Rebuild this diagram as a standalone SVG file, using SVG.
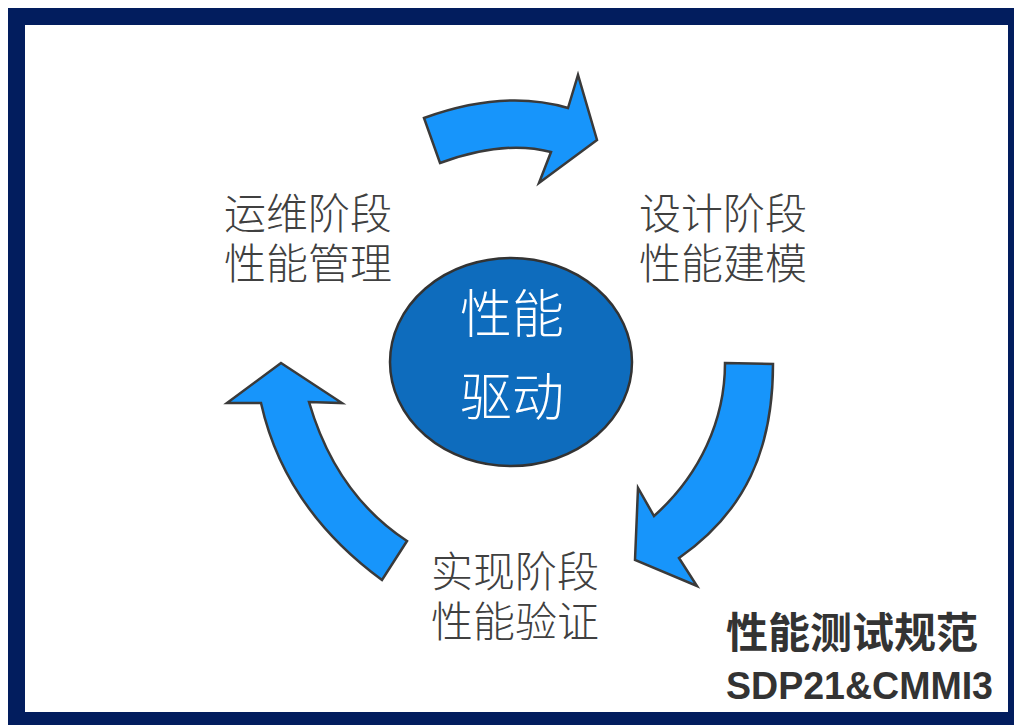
<svg xmlns="http://www.w3.org/2000/svg" width="1014" height="725" viewBox="0 0 1014 725">
<style>
.arrow{fill:#1795fb;stroke:#3a3a3a;stroke-width:2.5;stroke-linejoin:miter}
.lbl{font-family:"Noto Sans CJK SC","Noto Sans",sans-serif;font-size:42px;font-weight:300;fill:#404040}
.ctr{font-family:"Noto Sans CJK SC","Noto Sans",sans-serif;font-size:52px;font-weight:300;fill:#ffffff;text-anchor:middle}
.foot{font-family:"Noto Sans CJK SC","Noto Sans",sans-serif;font-size:42px;font-weight:bold;fill:#333333}
.code{font-family:"Liberation Sans","Noto Sans",sans-serif;font-size:39px;font-weight:bold;fill:#333333}
</style>
<rect x="0" y="0" width="1014" height="725" fill="#ffffff"/>
<rect x="8" y="8" width="1006" height="717" fill="#021d5e"/>
<rect x="25" y="25" width="983" height="687" fill="#ffffff"/>
<g id="connectors">
<path class="arrow" d="M424,118 Q504,89 568,108 L578,75 L597,140 L539,183 L551,152 Q504,139.5 440,163 Z"/>
<path class="arrow" d="M725,363 L773,364 C773,450 745,512 679,558 L697,586 L635,560 L638,488 L654,516 C700,475 725,420 725,363 Z"/>
<path class="arrow" d="M281,363 L342,403 L309,402 Q336,494.5 407,541 L382,580 Q284.5,508.5 261,403 L227,403 Z"/>
</g>
<g id="center">
<ellipse cx="511" cy="362" rx="121" ry="104" fill="#0e6cbd" stroke="#333333" stroke-width="2.5"/>
<text class="ctr"><tspan x="512" y="333">性能</tspan><tspan x="512" y="416">驱动</tspan></text>
</g>
<g id="ops">
<text class="lbl"><tspan x="224" y="229">运维阶段</tspan><tspan x="224" y="279">性能管理</tspan></text>
</g>
<g id="design">
<text class="lbl"><tspan x="639" y="229">设计阶段</tspan><tspan x="639" y="279">性能建模</tspan></text>
</g>
<g id="impl">
<text class="lbl"><tspan x="431" y="587">实现阶段</tspan><tspan x="431" y="637">性能验证</tspan></text>
</g>
<g id="footer">
<text class="foot" x="726" y="648">性能测试规范</text>
<text class="code" x="726" y="699" textLength="267" lengthAdjust="spacingAndGlyphs">SDP21&amp;CMMI3</text>
</g>
</svg>
